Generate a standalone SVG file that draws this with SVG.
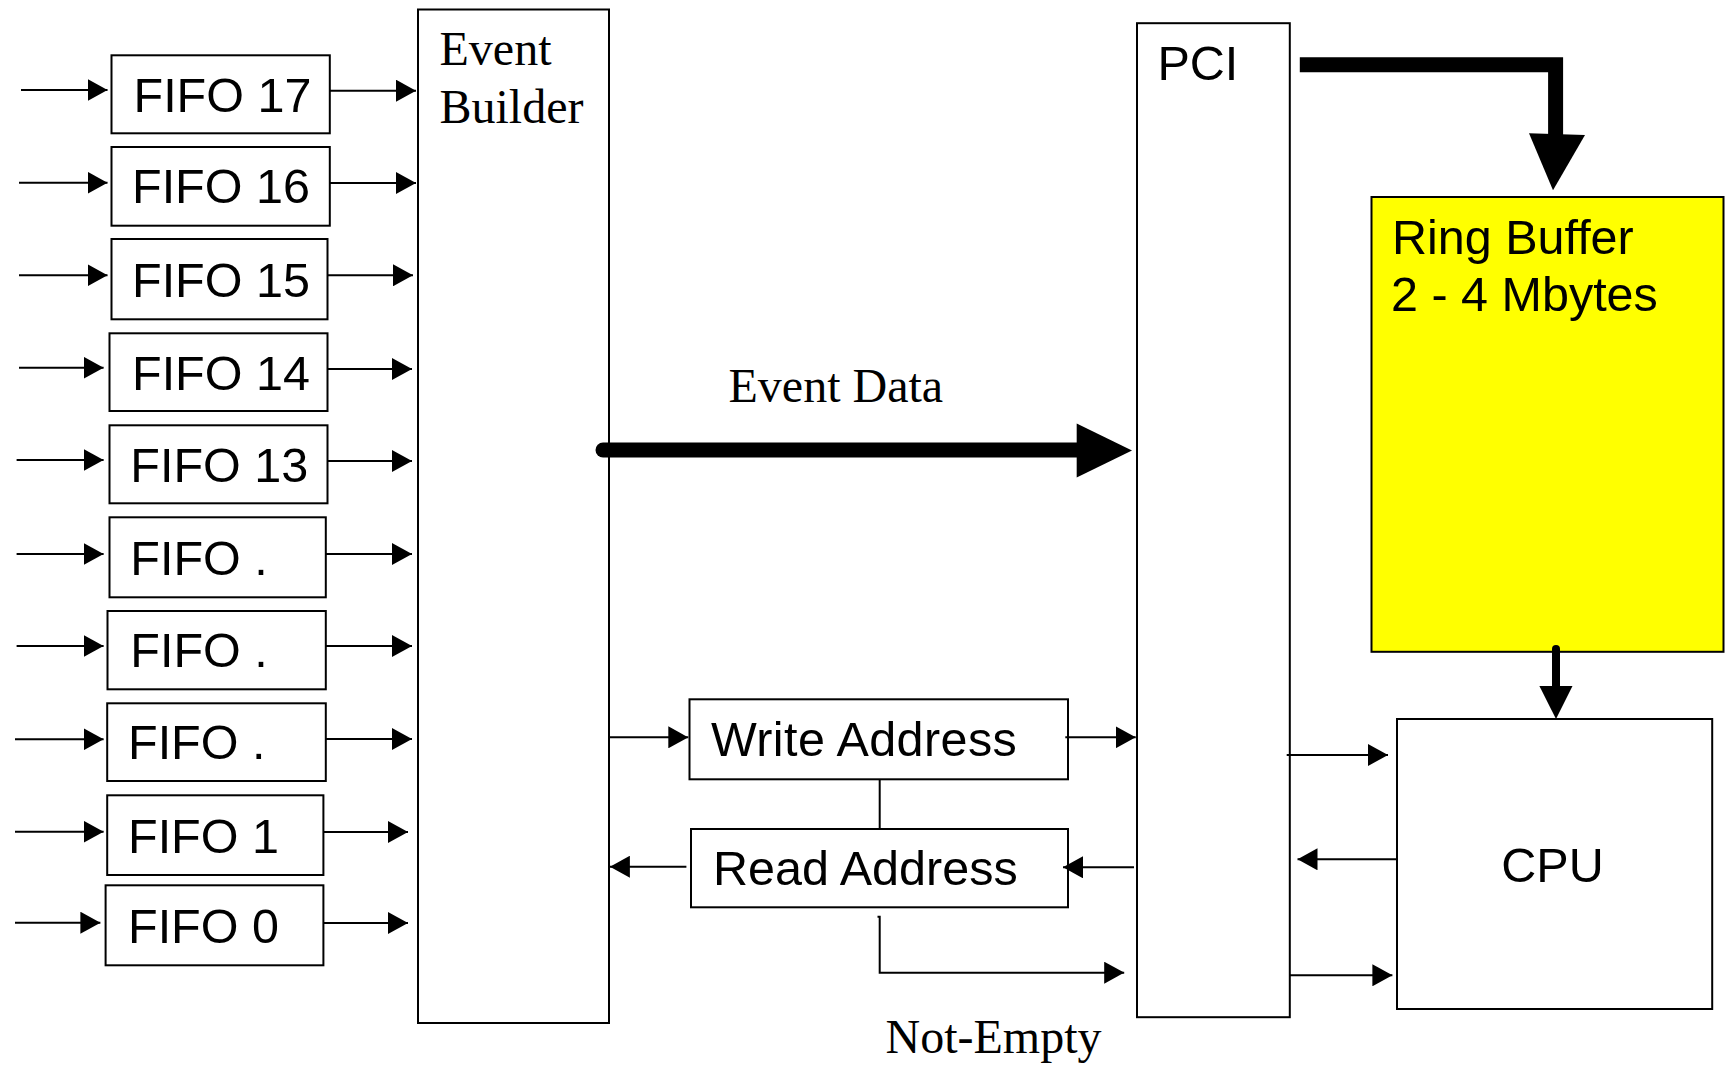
<svg xmlns="http://www.w3.org/2000/svg" width="1725" height="1065" viewBox="0 0 1725 1065">
<defs>
<style>
.box{fill:#fff;stroke:#000;stroke-width:2}
.sans{font-family:"Liberation Sans",Arial,sans-serif;font-size:48.5px;fill:#000}
.serif{font-family:"Liberation Serif","Times New Roman",serif;font-size:48px;fill:#000}
.ln{fill:none;stroke:#000;stroke-width:2}
.arr{fill:none;stroke:#000;stroke-width:2;marker-end:url(#ah)}
.thick{fill:none;stroke:#000;stroke-width:15}
</style>
<marker id="ah" viewBox="0 0 20 22" markerWidth="20" markerHeight="22" refX="20" refY="11" orient="auto" markerUnits="userSpaceOnUse">
<path d="M0,0 L20,11 L0,22 z" fill="#000"/>
</marker>
</defs>
<rect width="1725" height="1065" fill="#fff"/>

<g id="fifo17"><rect class="box" x="111.5" y="55.3" width="218.3" height="78"/><text class="sans" x="133.5" y="112">FIFO 17</text></g>
<g id="fifo16"><rect class="box" x="111.5" y="147" width="218.3" height="78.7"/><text class="sans" x="132" y="203.3">FIFO 16</text></g>
<g id="fifo15"><rect class="box" x="111.5" y="239" width="216" height="80.3"/><text class="sans" x="132" y="297.3">FIFO 15</text></g>
<g id="fifo14"><rect class="box" x="109.5" y="333.3" width="218" height="77.7"/><text class="sans" x="132" y="390">FIFO 14</text></g>
<g id="fifo13"><rect class="box" x="109.5" y="425.3" width="218" height="78"/><text class="sans" x="130.3" y="481.7">FIFO 13</text></g>
<g id="fifo_a"><rect class="box" x="109.5" y="517.3" width="216.3" height="80"/><text class="sans" x="130.3" y="575">FIFO .</text></g>
<g id="fifo_b"><rect class="box" x="107.5" y="611" width="218.3" height="78.3"/><text class="sans" x="130.3" y="667">FIFO .</text></g>
<g id="fifo_c"><rect class="box" x="107.2" y="703.3" width="218.6" height="77.7"/><text class="sans" x="128" y="759.3">FIFO .</text></g>
<g id="fifo1"><rect class="box" x="107.2" y="795.3" width="216.2" height="79.7"/><text class="sans" x="128" y="853.3">FIFO 1</text></g>
<g id="fifo0"><rect class="box" x="105.6" y="885.3" width="217.8" height="80"/><text class="sans" x="128" y="943.3">FIFO 0</text></g>

<g id="eventbuilder"><rect class="box" x="418" y="9.5" width="191" height="1013.5"/><text class="serif" x="439.5" y="65">Event</text><text class="serif" x="439.5" y="123.3">Builder</text></g>

<g id="pci"><rect class="box" x="1137" y="23.2" width="152.8" height="994"/><text class="sans" x="1157.5" y="80.4">PCI</text></g>

<g id="ringbuffer"><rect x="1371.5" y="197" width="352" height="454.8" fill="#ffff00" stroke="#000" stroke-width="2"/><text class="sans" x="1392" y="254.2">Ring Buffer</text><text class="sans" x="1391" y="311">2 - 4 Mbytes</text></g>

<g id="cpu"><rect class="box" x="1397" y="719" width="315.2" height="290"/><text class="sans" x="1552.5" y="881.7" text-anchor="middle">CPU</text></g>

<g id="writeaddr"><rect class="box" x="689.5" y="699.3" width="378.5" height="80"/><text class="sans" x="711" y="756" letter-spacing="0.4">Write Address</text></g>
<g id="readaddr"><rect class="box" x="691" y="829" width="377" height="78.3"/><text class="sans" x="713" y="885">Read Address</text></g>

<g id="labels">
<text class="serif" x="728.5" y="401.7">Event Data</text>
<text class="serif" x="885.5" y="1053">Not-Empty</text>
</g>

<g id="connectors">
<line class="arr" x1="21" y1="90" x2="107.5" y2="90"/>
<line class="arr" x1="19" y1="182.7" x2="107.5" y2="182.7"/>
<line class="arr" x1="19" y1="275.3" x2="107.5" y2="275.3"/>
<line class="arr" x1="19" y1="367.7" x2="103.6" y2="367.7"/>
<line class="arr" x1="16.6" y1="460" x2="103.6" y2="460"/>
<line class="arr" x1="16.6" y1="554" x2="103.6" y2="554"/>
<line class="arr" x1="16.6" y1="646" x2="103.6" y2="646"/>
<line class="arr" x1="15" y1="739.3" x2="103.6" y2="739.3"/>
<line class="arr" x1="15" y1="831.7" x2="103.6" y2="831.7"/>
<line class="arr" x1="15" y1="922.7" x2="100.4" y2="922.7"/>
<line class="arr" x1="329.8" y1="90.7" x2="416" y2="90.7"/>
<line class="arr" x1="329.8" y1="183" x2="416" y2="183"/>
<line class="arr" x1="327.4" y1="275.3" x2="413" y2="275.3"/>
<line class="arr" x1="327.4" y1="369" x2="412" y2="369"/>
<line class="arr" x1="327.4" y1="461" x2="412" y2="461"/>
<line class="arr" x1="325.8" y1="554" x2="412" y2="554"/>
<line class="arr" x1="325.8" y1="646" x2="412" y2="646"/>
<line class="arr" x1="325.8" y1="739" x2="412" y2="739"/>
<line class="arr" x1="323.4" y1="832" x2="408" y2="832"/>
<line class="arr" x1="323.4" y1="923" x2="408" y2="923"/>
<line x1="603" y1="450" x2="1080" y2="450" stroke="#000" stroke-width="15" stroke-linecap="round"/>
<path d="M1076.7,423.5 L1132,450.5 L1076.7,477.5 z" fill="#000"/>
<path class="thick" d="M1299.8,64.7 L1555.6,64.7 L1555.6,136"/>
<path d="M1529,133.3 L1585,135 L1553,190.2 z" fill="#000"/>
<line x1="1556" y1="649" x2="1556" y2="690" stroke="#000" stroke-width="8" stroke-linecap="round"/>
<path d="M1539.4,686 L1572.5,686 L1556,719 z" fill="#000"/>
<line class="arr" x1="1286.7" y1="755" x2="1388" y2="755"/>
<line class="arr" x1="1397" y1="859.3" x2="1297.5" y2="859.3"/>
<line class="arr" x1="1289.8" y1="975.3" x2="1392.4" y2="975.3"/>
<line class="arr" x1="609" y1="737.3" x2="688.3" y2="737.3"/>
<line class="arr" x1="1065.3" y1="737.3" x2="1135.7" y2="737.3"/>
<line class="arr" x1="1134" y1="867.3" x2="1063" y2="867.3"/>
<line class="arr" x1="686.4" y1="866.7" x2="609.9" y2="866.7"/>
<line class="ln" x1="879.7" y1="779.3" x2="879.7" y2="829"/>
<path class="arr" d="M877.5,916.7 L879.7,916.7 L879.7,972.7 L1124.2,972.7"/>
</g>
</svg>
